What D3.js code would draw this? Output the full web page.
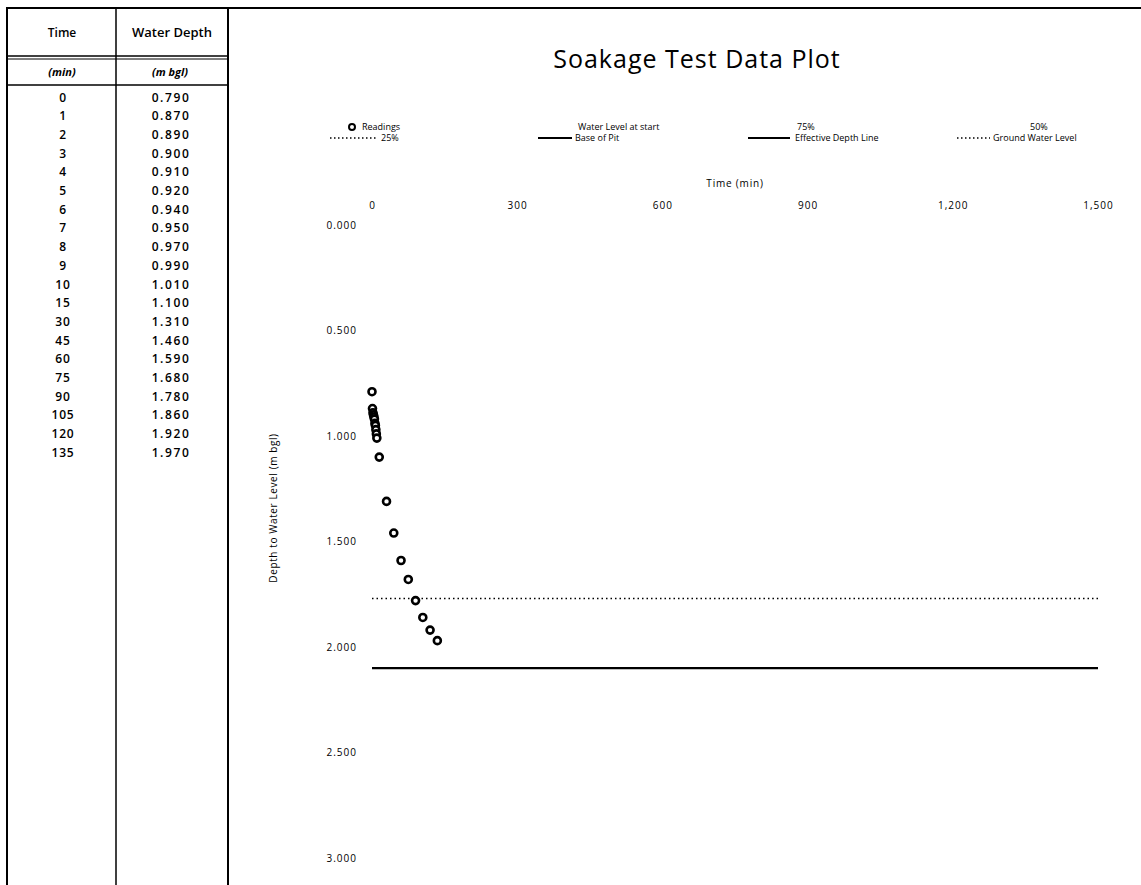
<!DOCTYPE html>
<html><head><meta charset="utf-8">
<script src="https://cdn.jsdelivr.net/npm/d3@7"></script>
<style>body{margin:0;background:#fff}svg{display:block}text{font-family:"Open Sans",sans-serif;fill:#000}</style>
</head><body><svg id="c" width="1141" height="885"></svg>
<script>
const times = [0,1,2,3,4,5,6,7,8,9,10,15,30,45,60,75,90,105,120,135];
const depths = [0.790,0.870,0.890,0.900,0.910,0.920,0.940,0.950,0.970,0.990,1.010,1.100,1.310,1.460,1.590,1.680,1.780,1.860,1.920,1.970];
const xTicks = [0,300,600,900,1200,1500];
const yTicks = [0,0.5,1.0,1.5,2.0,2.5,3.0];
const level25 = [[0,1.77],[1500,1.77]];
const pitBase = [[0,2.10],[1500,2.10]];
const legendRow1 = ["Readings","Water Level at start","75%","50%"];
const legendRow2 = ["25%","Base of Pit","Effective Depth Line","Ground Water Level"];

const svg = d3.select("#c");
const x = d3.scaleLinear().domain([0,1500]).range([372,1098]);
const y = d3.scaleLinear().domain([0,3]).range([225,858]);

// outer / table lines
const g = svg.append("g");
g.append("line").attr("x1",6).attr("x2",1141).attr("y1",8).attr("y2",8).attr("stroke","#000").attr("stroke-width",2);
[7,116,228].forEach(xx=>g.append("line").attr("x1",xx).attr("x2",xx).attr("y1",8).attr("y2",885).attr("stroke","#000").attr("stroke-width",xx===116?1.5:2));
g.append("line").attr("x1",7).attr("x2",228).attr("y1",56).attr("y2",56).attr("stroke","#000").attr("stroke-width",1.5);
g.append("line").attr("x1",7).attr("x2",228).attr("y1",59).attr("y2",59).attr("stroke","#000").attr("stroke-width",1);
g.append("line").attr("x1",7).attr("x2",228).attr("y1",85).attr("y2",85).attr("stroke","#000").attr("stroke-width",1.5);
g.append("text").attr("x",62).attr("y",37).attr("text-anchor","middle").attr("font-size",12).attr("font-weight","600").text("Time");
g.append("text").attr("x",172).attr("y",37).attr("text-anchor","middle").attr("font-size",13).attr("font-weight","600").text("Water Depth");
g.append("text").attr("x",62).attr("y",76).attr("text-anchor","middle").attr("font-size",11).attr("font-weight","bold").attr("font-style","italic").text("(min)");
g.append("text").attr("x",170).attr("y",76).attr("text-anchor","middle").attr("font-size",11).attr("font-weight","bold").attr("font-style","italic").text("(m bgl)");
times.forEach((t,i)=>{
  const yy = 101.5 + i*18.7;
  g.append("text").attr("x",63).attr("y",yy).attr("text-anchor","middle").attr("font-size",12).attr("font-weight","600").attr("letter-spacing",0.8).text(t);
  g.append("text").attr("x",171).attr("y",yy).attr("text-anchor","middle").attr("font-size",12).attr("font-weight","600").attr("letter-spacing",1.6).text(d3.format(".3f")(depths[i]));
});

// title
svg.append("text").attr("x",697).attr("y",68).attr("text-anchor","middle").attr("font-size",25).attr("letter-spacing",1).attr("fill","#222").text("Soakage Test Data Plot");

// legend
const L = svg.append("g").attr("font-size",9);
const r1 = 127, r2 = 138;
L.append("circle").attr("cx",352).attr("cy",r1).attr("r",3).attr("fill","#fff").attr("stroke","#000").attr("stroke-width",2);
L.append("text").attr("x",362).attr("y",r1+3).text(legendRow1[0]);
L.append("text").attr("x",578).attr("y",r1+3).text(legendRow1[1]);
L.append("text").attr("x",797).attr("y",r1+3).text(legendRow1[2]);
L.append("text").attr("x",1030).attr("y",r1+3).text(legendRow1[3]);
L.append("line").attr("x1",330).attr("x2",377).attr("y1",r2).attr("y2",r2).attr("stroke","#000").attr("stroke-width",1.5).attr("stroke-dasharray","1.5,2.5");
L.append("text").attr("x",381).attr("y",r2+3).text(legendRow2[0]);
L.append("line").attr("x1",538).attr("x2",572).attr("y1",r2).attr("y2",r2).attr("stroke","#000").attr("stroke-width",2);
L.append("text").attr("x",575).attr("y",r2+3).text(legendRow2[1]);
L.append("line").attr("x1",748).attr("x2",790).attr("y1",r2).attr("y2",r2).attr("stroke","#000").attr("stroke-width",2);
L.append("text").attr("x",795).attr("y",r2+3).text(legendRow2[2]);
L.append("line").attr("x1",957).attr("x2",990).attr("y1",r2).attr("y2",r2).attr("stroke","#000").attr("stroke-width",1.5).attr("stroke-dasharray","1.5,2.5");
L.append("text").attr("x",993).attr("y",r2+3).text(legendRow2[3]);

// axes
const xa = svg.append("g").attr("transform","translate(0,225)").call(d3.axisTop(x).tickValues(xTicks).tickFormat(d3.format(",")).tickSize(0).tickPadding(16));
xa.select(".domain").remove();
xa.selectAll("text").attr("font-size",10).attr("font-family","Open Sans").attr("letter-spacing",1);
svg.append("text").attr("x",735).attr("y",187).attr("text-anchor","middle").attr("font-size",10).attr("letter-spacing",0.8).text("Time (min)");
const ya = svg.append("g").attr("transform","translate(372,0)").call(d3.axisLeft(y).tickValues(yTicks).tickFormat(d3.format(".3f")).tickSize(0).tickPadding(15));
ya.select(".domain").remove();
ya.selectAll("text").attr("font-size",10).attr("font-family","Open Sans").attr("letter-spacing",1);
svg.append("text").attr("transform","translate(277,508) rotate(-90)").attr("text-anchor","middle").attr("font-size",10).attr("letter-spacing",0.6).text("Depth to Water Level (m bgl)");

// reference lines
const line = d3.line().x(d=>x(d[0])).y(d=>y(d[1]));
svg.append("path").attr("d",line(level25)).attr("fill","none").attr("stroke","#000").attr("stroke-width",1.5).attr("stroke-dasharray","1.5,3");
svg.append("path").attr("d",line(pitBase)).attr("fill","none").attr("stroke","#000").attr("stroke-width",2.2);

// readings
svg.append("g").selectAll("circle").data(times).join("circle")
  .attr("cx",(d)=>x(d)).attr("cy",(d,i)=>y(depths[i])).attr("r",3.5)
  .attr("fill","#fff").attr("stroke","#000").attr("stroke-width",2.6);
</script></body></html>
